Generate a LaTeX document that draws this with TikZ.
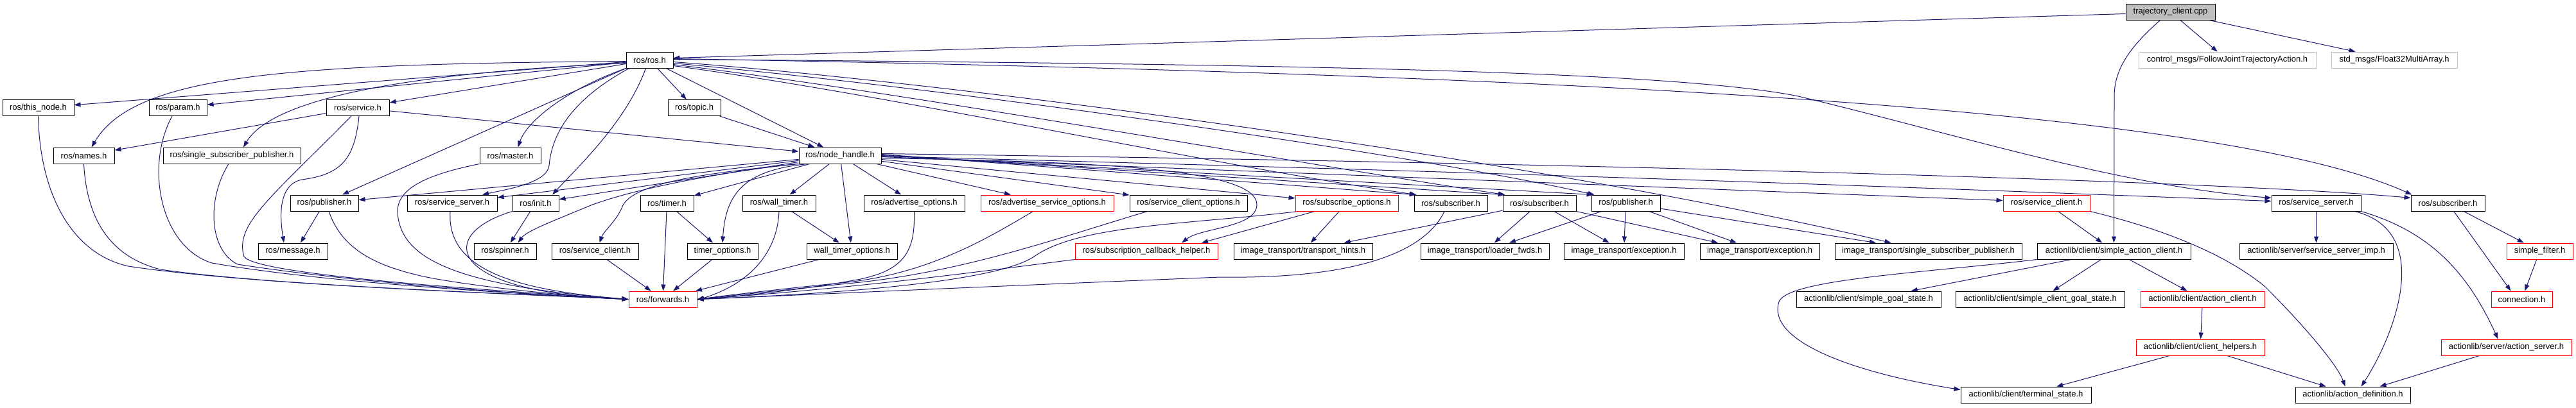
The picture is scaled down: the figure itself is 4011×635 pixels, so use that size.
\documentclass[tikz,border=0pt]{standalone}
\usepackage{fontspec}
\setmainfont{Liberation Sans}
\usetikzlibrary{arrows.meta}
\definecolor{edgec}{HTML}{191970}
\definecolor{rootfill}{HTML}{BFBFBF}
\definecolor{extbord}{HTML}{BFBFBF}
\pgfdeclarelayer{bg}
\pgfsetlayers{bg,main}
\begin{document}
\begin{tikzpicture}[x=1pt,y=-1pt,
  nb/.style={draw=black, line width=1pt, fill=white, minimum height=25pt, inner sep=0pt, font=\fontsize{13}{15}\selectfont},
  nr/.style={nb, draw=red},
  ng/.style={nb, draw=extbord},
  nroot/.style={nb, fill=rootfill},
  e/.style={draw=edgec, line width=1pt, -{Triangle[length=10pt,width=7pt]}}]
\useasboundingbox (0,0) rectangle (4011,635);
% level 0-1
\node[nroot, minimum width=139pt] (traj) at (3379.5,18.5) {trajectory\_client.cpp};
\node[nb, minimum width=73pt] (ros) at (1011.5,93.5) {ros/ros.h};
\node[ng, minimum width=276pt] (cmsg) at (3468,93.5) {control\_msgs/FollowJointTrajectoryAction.h};
\node[ng, minimum width=196pt] (stdmsg) at (3728,93.5) {std\_msgs/Float32MultiArray.h};
% level 2
\node[nb, minimum width=111pt] (thisnode) at (59.5,168) {ros/this\_node.h};
\node[nb, minimum width=90pt] (param) at (277,168) {ros/param.h};
\node[nb, minimum width=98pt] (service) at (557,168) {ros/service.h};
\node[nb, minimum width=82pt] (topic) at (1081,168) {ros/topic.h};
% level 3
\node[nb, minimum width=95pt] (names) at (130.5,242.5) {ros/names.h};
\node[nb, minimum width=214pt] (rssp) at (361,242.5) {ros/single\_subscriber\_publisher.h};
\node[nb, minimum width=95pt] (master) at (794.5,242.5) {ros/master.h};
\node[nb, minimum width=128pt] (nh) at (1308,242.5) {ros/node\_handle.h};
% level 4
\node[nb, minimum width=106pt] (pubL) at (505,316.5) {ros/publisher.h};
\node[nb, minimum width=140pt] (ssL) at (704,316.5) {ros/service\_server.h};
\node[nb, minimum width=72pt] (init) at (834,316.5) {ros/init.h};
\node[nb, minimum width=83pt] (timer) at (1038.5,316.5) {ros/timer.h};
\node[nb, minimum width=114pt] (wtimer) at (1213,316.5) {ros/wall\_timer.h};
\node[nb, minimum width=157pt] (advopt) at (1423.5,316.5) {ros/advertise\_options.h};
\node[nr, minimum width=207pt] (advsrvopt) at (1630.5,316.5) {ros/advertise\_service\_options.h};
\node[nb, minimum width=183pt] (scopt) at (1850.5,316.5) {ros/service\_client\_options.h};
\node[nr, minimum width=160pt] (subopt) at (2097,316.5) {ros/subscribe\_options.h};
\node[nb, minimum width=114pt] (subA) at (2259,316.5) {ros/subscriber.h};
\node[nb, minimum width=114pt] (subB) at (2397,316.5) {ros/subscriber.h};
\node[nb, minimum width=107pt] (pubB) at (2531.5,316.5) {ros/publisher.h};
\node[nr, minimum width=135pt] (scR) at (3186.5,316.5) {ros/service\_client.h};
\node[nb, minimum width=139pt] (ssR) at (3606.5,316.5) {ros/service\_server.h};
\node[nb, minimum width=115pt] (subR) at (3811.5,316.5) {ros/subscriber.h};
% level 5
\node[nb, minimum width=108pt] (message) at (456,391.5) {ros/message.h};
\node[nb, minimum width=97pt] (spinner) at (786.5,391.5) {ros/spinner.h};
\node[nb, minimum width=135pt] (scB) at (926.5,391.5) {ros/service\_client.h};
\node[nb, minimum width=110pt] (topt) at (1125,391.5) {timer\_options.h};
\node[nb, minimum width=141pt] (wtopt) at (1326.5,391.5) {wall\_timer\_options.h};
\node[nr, minimum width=222pt] (helper) at (1785,391.5) {ros/subscription\_callback\_helper.h};
\node[nb, minimum width=216pt] (hints) at (2029,391.5) {image\_transport/transport\_hints.h};
\node[nb, minimum width=200pt] (loader) at (2312,391.5) {image\_transport/loader\_fwds.h};
\node[nb, minimum width=187pt] (excA) at (2528.5,391.5) {image\_transport/exception.h};
\node[nb, minimum width=186pt] (excB) at (2740,391.5) {image\_transport/exception.h};
\node[nb, minimum width=291pt] (issp) at (3002.5,391.5) {image\_transport/single\_subscriber\_publisher.h};
\node[nb, minimum width=239pt] (sac) at (3291.5,391.5) {actionlib/client/simple\_action\_client.h};
\node[nb, minimum width=239pt] (ssimp) at (3606.5,391.5) {actionlib/server/service\_server\_imp.h};
\node[nr, minimum width=103pt] (sfilter) at (3954.5,391.5) {simple\_filter.h};
% level 6
\node[nr, minimum width=106pt] (forwards) at (1032,466.5) {ros/forwards.h};
\node[nb, minimum width=225pt] (sgs) at (2909.5,466.5) {actionlib/client/simple\_goal\_state.h};
\node[nb, minimum width=263pt] (scgs) at (3176.5,466.5) {actionlib/client/simple\_client\_goal\_state.h};
\node[nr, minimum width=193pt] (aclient) at (3429.5,466.5) {actionlib/client/action\_client.h};
\node[nr, minimum width=95pt] (connection) at (3926.5,466.5) {connection.h};
% level 7-8
\node[nr, minimum width=200pt] (chelpers) at (3426,541.5) {actionlib/client/client\_helpers.h};
\node[nr, minimum width=203pt] (aserver) at (3902.5,541.5) {actionlib/server/action\_server.h};
\node[nb, minimum width=203pt] (terminal) at (3154.5,615.5) {actionlib/client/terminal\_state.h};
\node[nb, minimum width=179pt] (adef) at (3663.5,615.5) {actionlib/action\_definition.h};

\begin{pgfonlayer}{bg}
% root
\draw[e] ([yshift=-3pt]traj.west) -- ([yshift=3pt]ros.east);
\draw[e] (traj) -- (cmsg);
\draw[e] (traj) -- (stdmsg);
\draw[e] ([xshift=-16pt]traj.south) .. controls (3320,70) and (3292,105) .. (3292,150) -- (sac.north);
% ros.h to the left
\draw[e] (ros) -- (thisnode);
\draw[e] (ros) -- (param);
\draw[e] (ros) -- (service);
\draw[e] ([yshift=-2pt]ros.west) .. controls (450,100) and (210,115) .. ([xshift=12pt]names.north);
\draw[e] ([yshift=-5pt]ros.west) .. controls (600,115) and (420,160) .. ([xshift=18pt]rssp.north);
\draw[e] (ros.south west) .. controls (880,140) and (820,190) .. ([xshift=12pt]master.north);
\draw[e] (ros) -- (topic);
\draw[e] (ros) -- (nh);
\draw[e] (topic) -- (nh);
\draw[e] (ros.south west) -- ([xshift=28pt]pubL.north);
\draw[e] ([xshift=5pt]ros.south west) .. controls (900,150) and (860,200) .. (855,258) .. controls (852,285) and (790,295) .. ([xshift=47pt]ssL.north);
\draw[e] ([xshift=-6pt]ros.south) .. controls (975,190) and (900,260) .. ([xshift=26pt]init.north);
% ros.h to the right
\draw[e] ([yshift=-3pt]ros.east) .. controls (1500,130) and (2400,250) .. ([xshift=-58pt]issp.north);
\draw[e] ([yshift=-5pt]ros.east) .. controls (1500,140) and (2200,240) .. ([xshift=5pt]pubB.north west);
\draw[e] ([yshift=-7pt]ros.east) .. controls (1450,150) and (2050,260) .. ([xshift=4pt]subB.north west);
\draw[e] ([yshift=-9pt]ros.east) .. controls (1400,150) and (1900,260) .. ([xshift=4pt]subA.north west);
\draw[e] ([yshift=2pt]ros.east) .. controls (2400,115) and (3450,165) .. ([xshift=2pt]subR.north west);
\draw[e] ([yshift=1pt]ros.east) .. controls (2000,100) and (2600,110) .. (2800,150) .. controls (3050,210) and (3300,290) .. ([yshift=8pt]ssR.west);
% service.h
\draw[e] (service) -- (nh);
\draw[e] (service) -- (names);
\draw[e] ([xshift=2pt]service.south) .. controls (552,250) and (530,272) .. (470,280) .. controls (432,288) and (436,340) .. ([xshift=-14pt]message.north);
\draw[e] ([xshift=-10pt]service.south) .. controls (420,310) and (365,350) .. (380,400) .. controls (400,430) and (800,455) .. (forwards.west);
% publisher.h (left)
\draw[e] (pubL) -- ([xshift=12pt]message.north);
\draw[e] ([xshift=7pt]pubL.south) .. controls (530,380) and (570,415) .. (680,435) .. controls (780,452) and (900,462) .. (forwards.west);
% left nodes to forwards.h
\draw[e] (thisnode.south) .. controls (62,300) and (110,395) .. (200,415) .. controls (400,445) and (800,458) .. (forwards.west);
\draw[e] (names.south) .. controls (135,340) and (170,400) .. (250,420) .. controls (420,445) and (800,458) .. (forwards.west);
\draw[e] ([xshift=-9pt]param.south) .. controls (225,260) and (250,385) .. (330,410) .. controls (500,440) and (800,458) .. (forwards.west);
\draw[e] ([xshift=-5pt]rssp.south) .. controls (322,310) and (325,390) .. (370,412) .. controls (550,440) and (800,458) .. (forwards.west);
\draw[e] (master.south west) .. controls (650,275) and (612,300) .. (620,340) .. controls (630,400) and (700,445) .. (forwards.west);
\draw[e] ([xshift=-3pt]ssL.south) .. controls (695,420) and (800,452) .. (forwards.west);
\draw[e] (init.south west) .. controls (680,365) and (690,455) .. (forwards.west);
% node_handle.h
\draw[e] (nh) -- (pubL);
\draw[e] (nh) -- (ssL);
\draw[e] (nh) -- (init);
\draw[e] (nh) -- (timer);
\draw[e] (nh) -- (wtimer);
\draw[e] (nh) -- (advopt);
\draw[e] (nh) -- (advsrvopt);
\draw[e] (nh) -- (scopt);
\draw[e] (nh) -- (subopt);
\draw[e] ([yshift=2pt]nh.east) -- ([xshift=3pt]subA.north west);
\draw[e] ([yshift=1pt]nh.east) -- ([xshift=3pt]subB.north west);
\draw[e] (nh.east) -- ([xshift=3pt]pubB.north west);
\draw[e] ([yshift=-2pt]nh.east) -- ([yshift=4pt]scR.west);
\draw[e] ([yshift=3pt]nh.east) .. controls (2600,256) and (3500,285) .. ([yshift=8pt]subR.west);
\draw[e] ([yshift=-1pt]nh.east) .. controls (2600,275) and (3300,305) .. ([yshift=3pt]ssR.west);
\draw[e] ([yshift=-4pt]nh.east) .. controls (1700,252) and (1960,262) .. (1957,320) .. controls (1955,355) and (1870,355) .. ([xshift=55pt]helper.north);
\draw[e] ([xshift=-3pt]nh.south west) .. controls (1150,265) and (1000,290) .. (920,320) .. controls (860,345) and (820,360) .. ([xshift=20pt]spinner.north);
\draw[e] (nh.south west) .. controls (1120,268) and (990,282) .. (970,320) .. controls (960,345) and (940,360) .. ([xshift=7pt]scB.north);
\draw[e] ([xshift=-50pt]nh.south) .. controls (1160,265) and (1130,300) .. (topt.north);
\draw[e] (nh) -- (wtopt);
% lower left group
\draw[e] (init) -- (spinner);
\draw[e] (scB) -- (forwards);
\draw[e] (timer) -- (forwards);
\draw[e] (timer) -- (topt);
\draw[e] (topt) -- (forwards);
\draw[e] (wtimer.south) .. controls (1210,400) and (1160,445) .. ([yshift=-1pt]forwards.east);
\draw[e] (wtimer) -- (wtopt);
\draw[e] (wtopt) -- (forwards);
\draw[e] (advopt.south) .. controls (1425,390) and (1410,420) .. (1340,435) .. controls (1250,452) and (1150,462) .. (forwards.east);
\draw[e] ([xshift=-22pt]advsrvopt.south) .. controls (1540,370) and (1450,425) .. (1320,440) .. controls (1200,452) and (1120,462) .. (forwards.east);
\draw[e] ([xshift=-64pt]scopt.south) .. controls (1650,370) and (1500,425) .. (1320,442) .. controls (1200,454) and (1120,463) .. (forwards.east);
\draw[e] (helper.south west) .. controls (1550,420) and (1350,448) .. (forwards.east);
\draw[e] ([xshift=5pt]subopt.south west) .. controls (1850,350) and (1680,350) .. (1610,400) .. controls (1550,440) and (1300,458) .. (forwards.east);
\draw[e] ([xshift=-50pt]subopt.south) -- ([xshift=86pt]helper.north);
\draw[e] (subopt) -- (hints);
\draw[e] ([xshift=-10pt]subA.south) .. controls (2220,390) and (2120,435) .. (1900,432) .. controls (1500,448) and (1200,462) .. (forwards.east);
% image_transport group
\draw[e] (subB) -- (hints);
\draw[e] (subB) -- (loader);
\draw[e] (subB) -- (excA);
\draw[e] (subB.south east) -- ([xshift=-65pt]excB.north);
\draw[e] (pubB) -- (loader);
\draw[e] (pubB) -- (excA);
\draw[e] (pubB) -- (excB);
\draw[e] (pubB) -- (issp);
% actionlib group
\draw[e] (scR) -- (sac);
\draw[e] (scR.south east) .. controls (3380,360) and (3470,400) .. (3527,447) .. controls (3590,510) and (3640,570) .. ([xshift=-12pt]adef.north);
\draw[e] (sac.south west) .. controls (3000,425) and (2785,435) .. (2770,470) .. controls (2750,530) and (2880,580) .. ([yshift=8pt]terminal.west);
\draw[e] (sac) -- (sgs);
\draw[e] (sac) -- (scgs);
\draw[e] (sac) -- (aclient);
\draw[e] (aclient) -- (chelpers);
\draw[e] (chelpers) -- (terminal);
\draw[e] (chelpers) -- (adef);
\draw[e] (ssR) -- (ssimp);
\draw[e] ([xshift=60pt]ssR.south) .. controls (3790,360) and (3730,520) .. ([xshift=13pt]adef.north);
\draw[e] (ssR.south east) .. controls (3780,360) and (3840,420) .. ([xshift=-13pt]aserver.north);
\draw[e] (aserver) -- (adef);
\draw[e] (subR) -- (sfilter);
\draw[e] (subR) -- ([xshift=-17pt]connection.north);
\draw[e] (sfilter) -- (connection);
\end{pgfonlayer}
\end{tikzpicture}
\end{document}
